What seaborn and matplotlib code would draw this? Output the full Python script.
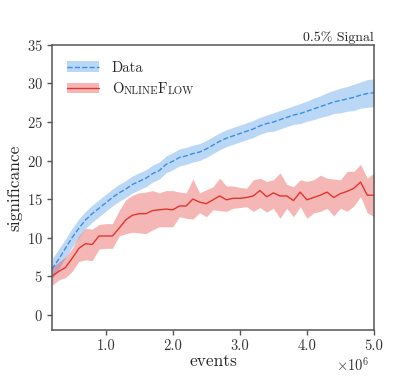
import numpy as np
import pandas as pd
import seaborn as sns
import matplotlib.pyplot as plt
from matplotlib.patches import Patch
from matplotlib.lines import Line2D
from matplotlib.ticker import ScalarFormatter

# events (in millions) and significance values
events_m = [0.2, 0.3, 0.4, 0.5, 0.6, 0.7, 0.8, 0.9, 1.0, 1.1,
            1.2, 1.3, 1.4, 1.5, 1.6, 1.7, 1.8, 1.9, 2.0, 2.1,
            2.2, 2.3, 2.4, 2.5, 2.6, 2.7, 2.8, 2.9, 3.0, 3.1,
            3.2, 3.3, 3.4, 3.5, 3.6, 3.7, 3.8, 3.9, 4.0, 4.1,
            4.2, 4.3, 4.4, 4.5, 4.6, 4.7, 4.8, 4.9, 5.0]

data_mean = [5.9, 7.2, 8.6, 10.0, 11.2, 12.3, 13.1, 13.8, 14.5, 15.2,
             15.8, 16.3, 16.9, 17.3, 17.7, 18.3, 18.7, 19.5, 19.9, 20.4,
             20.6, 20.9, 21.1, 21.5, 22.0, 22.5, 22.9, 23.2, 23.5, 23.8,
             24.1, 24.5, 24.8, 25.0, 25.3, 25.6, 25.9, 26.1, 26.4, 26.7,
             27.0, 27.3, 27.6, 27.8, 28.0, 28.2, 28.5, 28.7, 28.8]
data_err = [1.3, 1.3, 1.2, 1.2, 1.2, 1.1, 1.1, 1.1, 1.1, 1.1,
            1.1, 1.1, 1.1, 1.1, 1.1, 1.1, 1.1, 1.1, 1.1, 1.1,
            1.1, 1.1, 1.1, 1.1, 1.1, 1.1, 1.1, 1.1, 1.1, 1.1,
            1.1, 1.1, 1.1, 1.2, 1.2, 1.2, 1.2, 1.3, 1.3, 1.4,
            1.4, 1.5, 1.5, 1.6, 1.6, 1.7, 1.7, 1.8, 1.8]

flow_mean = [5.0, 5.6, 6.1, 7.3, 8.6, 9.2, 9.1, 10.2, 10.2, 10.2,
             11.2, 12.3, 12.9, 13.1, 13.1, 13.5, 13.6, 13.7, 13.6, 14.1,
             14.1, 15.0, 14.6, 14.4, 14.9, 15.4, 14.9, 15.1, 15.1, 15.2,
             15.4, 16.1, 15.3, 15.8, 15.4, 15.4, 14.8, 15.9, 14.9, 15.2,
             15.5, 15.9, 15.2, 15.7, 16.0, 16.4, 17.2, 15.5, 15.5]
flow_hi = [6.2, 6.8, 7.5, 8.6, 10.2, 11.2, 11.1, 11.7, 11.8, 11.8,
           13.5, 14.9, 15.5, 15.8, 15.9, 16.1, 15.8, 16.1, 16.1, 15.9,
           15.8, 17.6, 15.8, 16.2, 16.6, 17.7, 16.7, 16.7, 16.5, 16.4,
           17.5, 17.7, 17.3, 17.5, 18.4, 16.9, 16.6, 17.5, 17.3, 17.5,
           18.1, 17.7, 17.6, 17.5, 18.6, 18.6, 19.5, 17.7, 18.4]
flow_lo = [3.8, 4.5, 4.8, 5.6, 6.9, 7.1, 7.0, 8.5, 8.6, 8.6,
           10.2, 10.5, 10.7, 10.6, 10.5, 11.0, 11.4, 11.4, 11.4, 12.7,
           12.5, 12.4, 13.2, 12.7, 13.6, 13.5, 13.4, 13.8, 13.9, 14.0,
           13.4, 13.9, 13.3, 13.8, 12.5, 13.8, 12.7, 14.0, 12.5, 13.2,
           13.4, 13.8, 12.8, 13.8, 13.4, 14.1, 15.3, 13.2, 12.7]

x_ticks = [1.0e6, 2.0e6, 3.0e6, 4.0e6, 5.0e6]
y_ticks = [0, 5, 10, 15, 20, 25, 30, 35]

sns.set_style("ticks")
plt.rcParams['font.family'] = 'serif'
plt.rcParams['font.serif'] = ['cmr10']
plt.rcParams['mathtext.fontset'] = 'cm'
plt.rcParams['axes.formatter.use_mathtext'] = True

blue = '#3b8ee6'
red = '#e5332e'

ev = np.array(events_m) * 1e6
df = pd.DataFrame({'events': ev, 'data': data_mean, 'flow': flow_mean})

fig = plt.figure(figsize=(4.16, 3.78), dpi=100)
ax = fig.add_axes([0.125, 0.127, 0.774, 0.754])

ax.fill_between(ev, np.array(data_mean) - np.array(data_err),
                np.array(data_mean) + np.array(data_err),
                color=blue, alpha=0.35, lw=0)
ax.fill_between(ev, flow_lo, flow_hi, color=red, alpha=0.35, lw=0)
sns.lineplot(data=df, x='events', y='data', ax=ax, color=blue,
             linestyle='--', lw=1.0)
sns.lineplot(data=df, x='events', y='flow', ax=ax, color=red, lw=1.0)

ax.set_xlim(0.2e6, 5.0e6)
ax.set_ylim(-2, 35)
ax.set_xticks(x_ticks)
ax.set_yticks(y_ticks)


class OneDecimal(ScalarFormatter):
    def _set_format(self):
        self.format = '%1.1f'


fmt = OneDecimal(useMathText=True)
fmt.set_powerlimits((0, 0))
ax.xaxis.set_major_formatter(fmt)
off = ax.xaxis.get_offset_text()
off.set_fontsize(10.5)
off.set_y(-0.03)
off.set_x(0.985)

for s in ax.spines.values():
    s.set_color('#555555')
    s.set_linewidth(1.1)
ax.tick_params(colors='#333333', labelsize=10.5, length=3.5, width=1.0, pad=3)
ax.tick_params(axis='both', color='#555555')

ax.set_xlabel('events', fontsize=12.5, labelpad=1)
ax.set_ylabel('significance', fontsize=12.5, labelpad=3)
ax.set_title('0.5% Signal', loc='right', fontsize=10, pad=3)

h_data = (Patch(facecolor=blue, alpha=0.35, lw=0),
          Line2D([], [], color=blue, ls='--', lw=1.0))
h_flow = (Patch(facecolor=red, alpha=0.35, lw=0),
          Line2D([], [], color=red, lw=1.0))
leg = ax.legend([h_data, h_flow], ['Data', 'O'], loc='upper left',
                frameon=False, fontsize=10.5, handlelength=2.2,
                handletextpad=0.9, labelspacing=0.55,
                bbox_to_anchor=(0.005, 0.99))

# small caps for the method name
fig.canvas.draw()
prev = leg.get_texts()[1]
for part, size in [('NLINE', 7.8), ('F', 10.5), ('LOW', 7.8)]:
    prev = ax.annotate(part, xy=(1, 0), xycoords=prev, va='bottom',
                       ha='left', fontsize=size, color='#262626')

fig.savefig('out.png', dpi=100)
